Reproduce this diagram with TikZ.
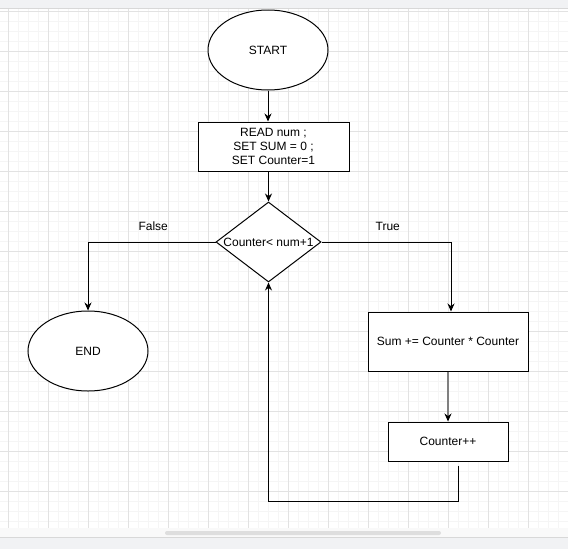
\documentclass[tikz,border=0pt]{standalone}
\usepackage{fontspec}
\setmainfont{Liberation Sans}
\usepackage{xcolor}
\usetikzlibrary{arrows.meta,positioning,shapes.geometric}
\definecolor{gridmajor}{HTML}{E2E2E2}
\definecolor{gridminor}{HTML}{F5F5F5}
\definecolor{chrome}{HTML}{F1F2F4}
\definecolor{chromeline}{HTML}{D8D8D8}
\definecolor{thumb}{HTML}{DEDEDE}

\begin{document}
\begin{tikzpicture}[
    x=1pt, y=-1pt, line width=1pt,
    font=\fontsize{12}{14.4}\selectfont,
    terminal/.style={draw, ellipse, fill=white, minimum width=120pt, minimum height=80pt, inner sep=0pt},
    process/.style={draw, fill=white, align=center, inner sep=0pt},
    decision/.style={draw, diamond, fill=white, minimum width=105pt, minimum height=80pt, inner sep=0pt},
    lbl/.style={above=8pt, xshift=1.5pt},
    arr/.style={-{Stealth[length=8pt, width=7pt, black]}}
]
    \useasboundingbox (0,0) rectangle (568,549);
    % canvas with the editor grid
    \fill[white] (0,9) rectangle (568,528);
    \foreach \x in {18,28,...,558} \draw[gridminor] (\x,9) -- (\x,528);
    \foreach \y in {21,31,...,521} \draw[gridminor] (0,\y) -- (568,\y);
    \foreach \x in {8,48,...,568} \draw[gridmajor] (\x,9) -- (\x,528);
    \foreach \y in {11,51,...,491} \draw[gridmajor] (0,\y) -- (568,\y);
    % window chrome, top and bottom
    \fill[chrome] (0,0) rectangle (568,8);
    \draw[chromeline] (0,8.5) -- (568,8.5);
    \fill[gray!5] (0,528) rectangle (568,537);
    \fill[thumb, rounded corners=2pt] (165,531) rectangle (441,535);
    \draw[chromeline] (0,537.5) -- (568,537.5);
    \fill[chrome] (0,538) rectangle (568,549);

    % main column
    \node[terminal] (start) at (268,50) {START};
    \node[process, minimum width=151pt, minimum height=49pt, below=31pt of start, xshift=5.5pt] (init) {READ num ;\\SET SUM = 0 ;\\SET Counter=1};
    \node[decision, below=30pt of init, xshift=-5pt, label=center:{Counter< num+1}] (cond) {};
    % the two branches
    \node[terminal] (stop) at (88,351) {END};
    \node[process, minimum width=160pt, minimum height=59pt] (sum) at (448,341.5) {Sum += Counter * Counter};
    \node[process, minimum width=120pt, minimum height=39pt, below=50pt of sum] (inc) {Counter++};
    \coordinate (back) at ([xshift=10pt, yshift=-4pt]inc.south);

    \draw[arr] (start.south) -- (start.south |- init.north);
    \draw[arr] (cond.north |- init.south) -- (cond.north);
    % False: leave the loop
    \draw[arr] (cond.west) -| node[pos=0.25, lbl] {False} (stop.north);
    % True: body of the loop
    \draw[arr] (cond.east) -| node[pos=0.25, lbl] {True} ([xshift=3pt]sum.north);
    \draw[arr, draw=gray, line width=1.4pt] (sum) -- (inc);
    \draw[arr] (back) -- ++(0,36) -| (cond.south);
\end{tikzpicture}
\end{document}
